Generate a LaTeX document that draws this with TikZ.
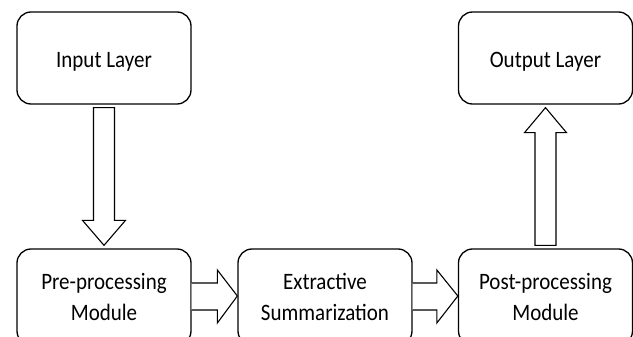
\documentclass[tikz,border=0pt]{standalone}
\usepackage{fontspec}
\setmainfont{Carlito}
\usetikzlibrary{calc}
\newcommand{\tallt}[1]{\scalebox{1}[1.12]{#1}}
\newcommand{\lowert}[1]{\raisebox{-4pt}[\height][\depth]{#1}}
\begin{document}
\begin{tikzpicture}[x=1pt,y=-1pt,
  box/.style={draw=black,line width=1.3pt,rounded corners=14pt,minimum width=174pt,inner sep=0pt,align=center,
    font=\fontsize{21}{31}\selectfont},
  topbox/.style={box,minimum height=92pt},
  lowbox/.style={box,minimum height=96pt},
  blockarrow/.style={draw=black,line width=1.1pt,line join=miter,fill=white}]
\useasboundingbox (0,0) rectangle (633,337);
\node[topbox] (in) at (104,58) {\lowert{\tallt{Input Layer}}};
\node[topbox] (out) at (545.5,58) {\lowert{\tallt{Output Layer}}};
\node[lowbox] (pre) at (104,297) {\tallt{Pre-processing}\\\tallt{Module}};
\node[lowbox] (ext) at (325,297) {\tallt{Extractive}\\\tallt{Summarization}};
\node[lowbox] (post) at (545.5,297) {\tallt{Post-processing}\\\tallt{Module}};
% down arrow: Input -> Pre
\draw[blockarrow] ($(in.south)+(-10.5,3)$) -- ($(pre.north)+(-10.5,-28)$) -- ($(pre.north)+(-21.5,-28)$)
  -- ($(pre.north)+(0,-3)$) -- ($(pre.north)+(21.5,-28)$) -- ($(pre.north)+(10.5,-28)$)
  -- ($(in.south)+(10.5,3)$) -- cycle;
% up arrow: Post -> Output
\draw[blockarrow] ($(post.north)+(-10.5,-3)$) -- ($(out.south)+(-10.5,28)$) -- ($(out.south)+(-21,28)$)
  -- ($(out.south)+(0,3)$) -- ($(out.south)+(21,28)$) -- ($(out.south)+(10.5,28)$)
  -- ($(post.north)+(10.5,-3)$) -- cycle;
% horizontal arrows
\draw[blockarrow] ($(pre.east)+(0,-14)$) -- ($(ext.west)+(-20,-14)$) -- ($(ext.west)+(-20,-27)$)
  -- ($(ext.west)+(0,-1)$) -- ($(ext.west)+(-20,26)$) -- ($(ext.west)+(-20,13)$) -- ($(pre.east)+(0,13)$);
\draw[blockarrow] ($(ext.east)+(0,-14)$) -- ($(post.west)+(-21,-14)$) -- ($(post.west)+(-21,-27)$)
  -- ($(post.west)+(0,-1)$) -- ($(post.west)+(-21,26)$) -- ($(post.west)+(-21,13)$) -- ($(ext.east)+(0,13)$);
\end{tikzpicture}
\end{document}
